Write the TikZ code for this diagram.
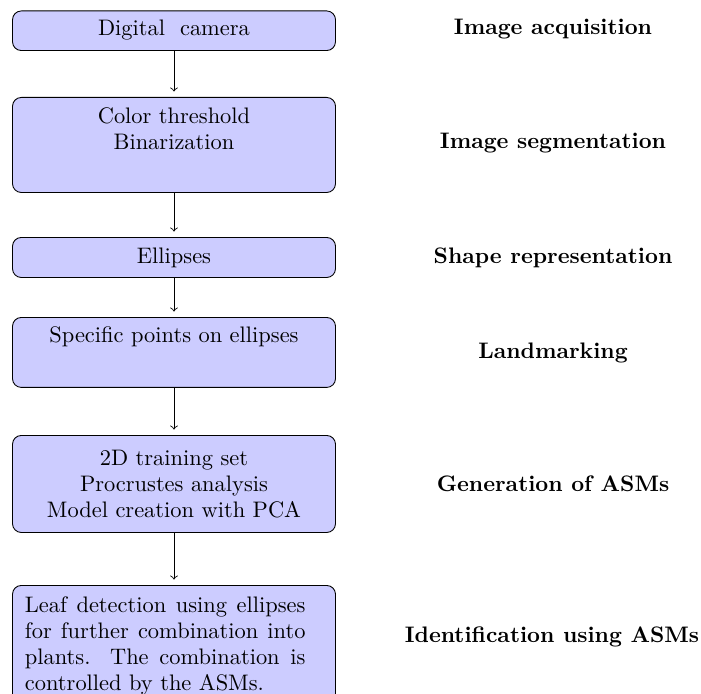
\documentclass[tikz,border=0pt]{standalone}
\newcommand{\stagefont}{\fontsize{10.2pt}{11.8pt}\selectfont}
\tikzset{
  stagebox/.style={draw=black, fill=blue!20, rounded corners=4pt, inner sep=0pt, minimum width=146.8pt, anchor=north, font=\stagefont},
  stagelabel/.style={font=\stagefont\bfseries, anchor=base},
  flow/.style={->, shorten >=2.5pt},
}
\newcommand{\stagetext}[3]{\parbox[c][#1][t]{140pt}{\centering\rule{0pt}{#2}#3}}
\begin{document}
\begin{tikzpicture}[x=0.4545pt, y=-0.4545pt]
\useasboundingbox (0,0) rectangle (701,693);
\node[stagebox] (b1) at (174,10.5) {\stagetext{18pt}{11.1pt}{Digital~ camera}};
\node[stagebox] (b2) at (174,97) {\stagetext{43.2pt}{11.8pt}{Color threshold\\Binarization}};
\node[stagebox] (b3) at (174,237) {\stagetext{18.2pt}{11.8pt}{Ellipses}};
\node[stagebox] (b4) at (174,317) {\stagetext{31.8pt}{11.4pt}{Specific points on ellipses}};
\node[stagebox] (b5) at (174,435) {\stagetext{44.1pt}{13.6pt}{2D training set\\Procrustes analysis\\Model creation with PCA}};
\node[stagebox] (b6) at (174,585) {\parbox[c][54.5pt][t]{127.5pt}{\rule{0pt}{12.3pt}Leaf detection using ellipses for further combination into plants. The combination is controlled by the ASMs.}\hspace*{8pt}};
\draw[flow] (b1) -- (b2);
\draw[flow] (b2) -- (b3);
\draw[flow] (b3) -- (b4);
\draw[flow] (b4) -- (b5);
\draw[flow] (b5) -- (b6);
\node[stagelabel] (l1) at (553,35) {Image acquisition};
\node[stagelabel] (l2) at (553,148) {Image segmentation};
\node[stagelabel] (l3) at (553,263) {Shape representation};
\node[stagelabel] (l4) at (553,358) {Landmarking};
\node[stagelabel] (l5) at (553,491) {Generation of ASMs};
\node[stagelabel] (l6) at (552,642) {Identification using ASMs};
\end{tikzpicture}
\end{document}
